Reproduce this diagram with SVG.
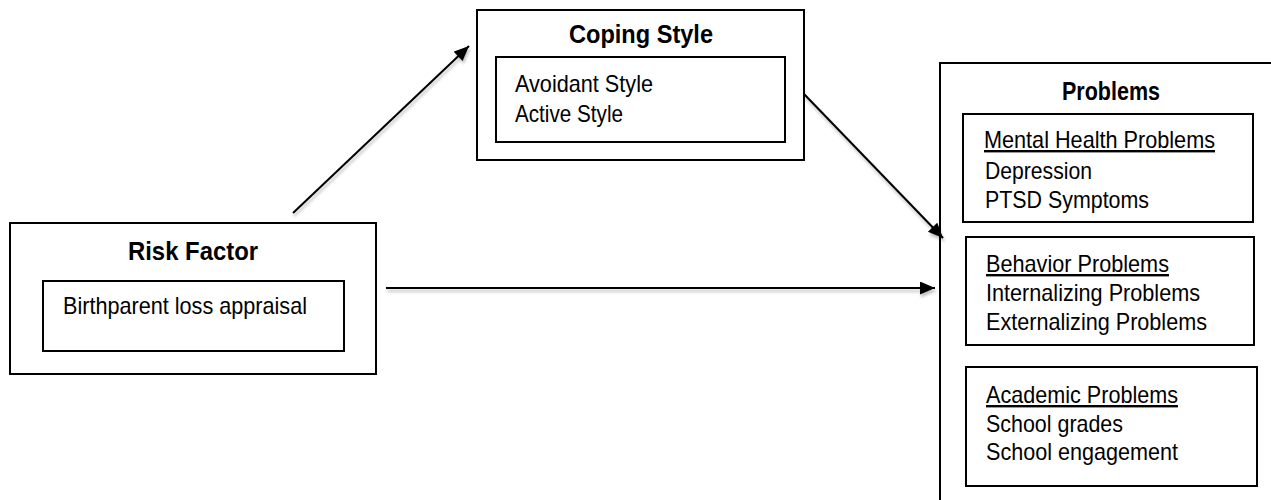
<svg xmlns="http://www.w3.org/2000/svg" width="1271" height="500" viewBox="0 0 1271 500">
<style>
.box{fill:none;stroke:#000;stroke-width:2}
.t{font-family:"Liberation Sans",Arial,sans-serif;font-size:24px;fill:#000}
.h{font-family:"Liberation Sans",Arial,sans-serif;font-size:26px;font-weight:bold;fill:#000}
.u{text-decoration:underline}
.c{stroke:#000;stroke-width:2;fill:none;marker-end:url(#ah)}
</style>
<defs>
<marker id="ah" markerUnits="userSpaceOnUse" markerWidth="16" markerHeight="14" refX="15" refY="6.5" orient="auto">
<path d="M0,0 L15,6.5 L0,13 z" fill="#000"/>
</marker>
<filter id="sh" x="-10%" y="-10%" width="130%" height="130%">
<feGaussianBlur in="SourceAlpha" stdDeviation="1.5"/>
<feOffset dx="1" dy="3" result="b"/>
<feComponentTransfer><feFuncA type="linear" slope="0.25"/></feComponentTransfer>
<feMerge><feMergeNode/><feMergeNode in="SourceGraphic"/></feMerge>
</filter>
</defs>
<rect width="1271" height="500" fill="#fff"/>
<g id="connectors" filter="url(#sh)">
<line class="c" x1="293" y1="213" x2="469" y2="46"/>
<line class="c" x1="804" y1="94" x2="943" y2="238"/>
<line class="c" x1="386" y1="288" x2="935" y2="288"/>
</g>
<g id="risk-factor">
<rect class="box" x="10" y="223" width="366" height="151"/>
<text class="h" x="128" y="260" textLength="130" lengthAdjust="spacingAndGlyphs">Risk Factor</text>
<rect class="box" x="43" y="281" width="301" height="70"/>
<text class="t" x="63" y="314" textLength="244" lengthAdjust="spacingAndGlyphs">Birthparent loss appraisal</text>
</g>
<g id="coping-style">
<rect class="box" x="477" y="10" width="327" height="150"/>
<text class="h" x="569" y="43" textLength="144" lengthAdjust="spacingAndGlyphs">Coping Style</text>
<rect class="box" x="496" y="57" width="289" height="85"/>
<text class="t" x="515" y="92" textLength="138" lengthAdjust="spacingAndGlyphs">Avoidant Style</text>
<text class="t" x="515" y="122" textLength="108" lengthAdjust="spacingAndGlyphs">Active Style</text>
</g>
<g id="problems">
<rect class="box" x="940" y="63" width="340" height="450"/>
<text class="h" x="1062" y="100" textLength="98" lengthAdjust="spacingAndGlyphs">Problems</text>
</g>
<g id="mental-health">
<rect class="box" x="963" y="114" width="290" height="108"/>
<text class="t u" x="984" y="148" textLength="231" lengthAdjust="spacingAndGlyphs">Mental Health Problems</text>
<text class="t" x="985" y="179" textLength="107" lengthAdjust="spacingAndGlyphs">Depression</text>
<text class="t" x="985" y="208" textLength="164" lengthAdjust="spacingAndGlyphs">PTSD Symptoms</text>
</g>
<g id="behavior">
<rect class="box" x="966" y="237" width="288" height="108"/>
<text class="t u" x="986" y="272" textLength="183" lengthAdjust="spacingAndGlyphs">Behavior Problems</text>
<text class="t" x="986" y="301" textLength="214" lengthAdjust="spacingAndGlyphs">Internalizing Problems</text>
<text class="t" x="986" y="330" textLength="221" lengthAdjust="spacingAndGlyphs">Externalizing Problems</text>
</g>
<g id="academic">
<rect class="box" x="966" y="367" width="291" height="119"/>
<text class="t u" x="986" y="403" textLength="192" lengthAdjust="spacingAndGlyphs">Academic Problems</text>
<text class="t" x="986" y="432" textLength="137" lengthAdjust="spacingAndGlyphs">School grades</text>
<text class="t" x="986" y="460" textLength="192" lengthAdjust="spacingAndGlyphs">School engagement</text>
</g>
</svg>
